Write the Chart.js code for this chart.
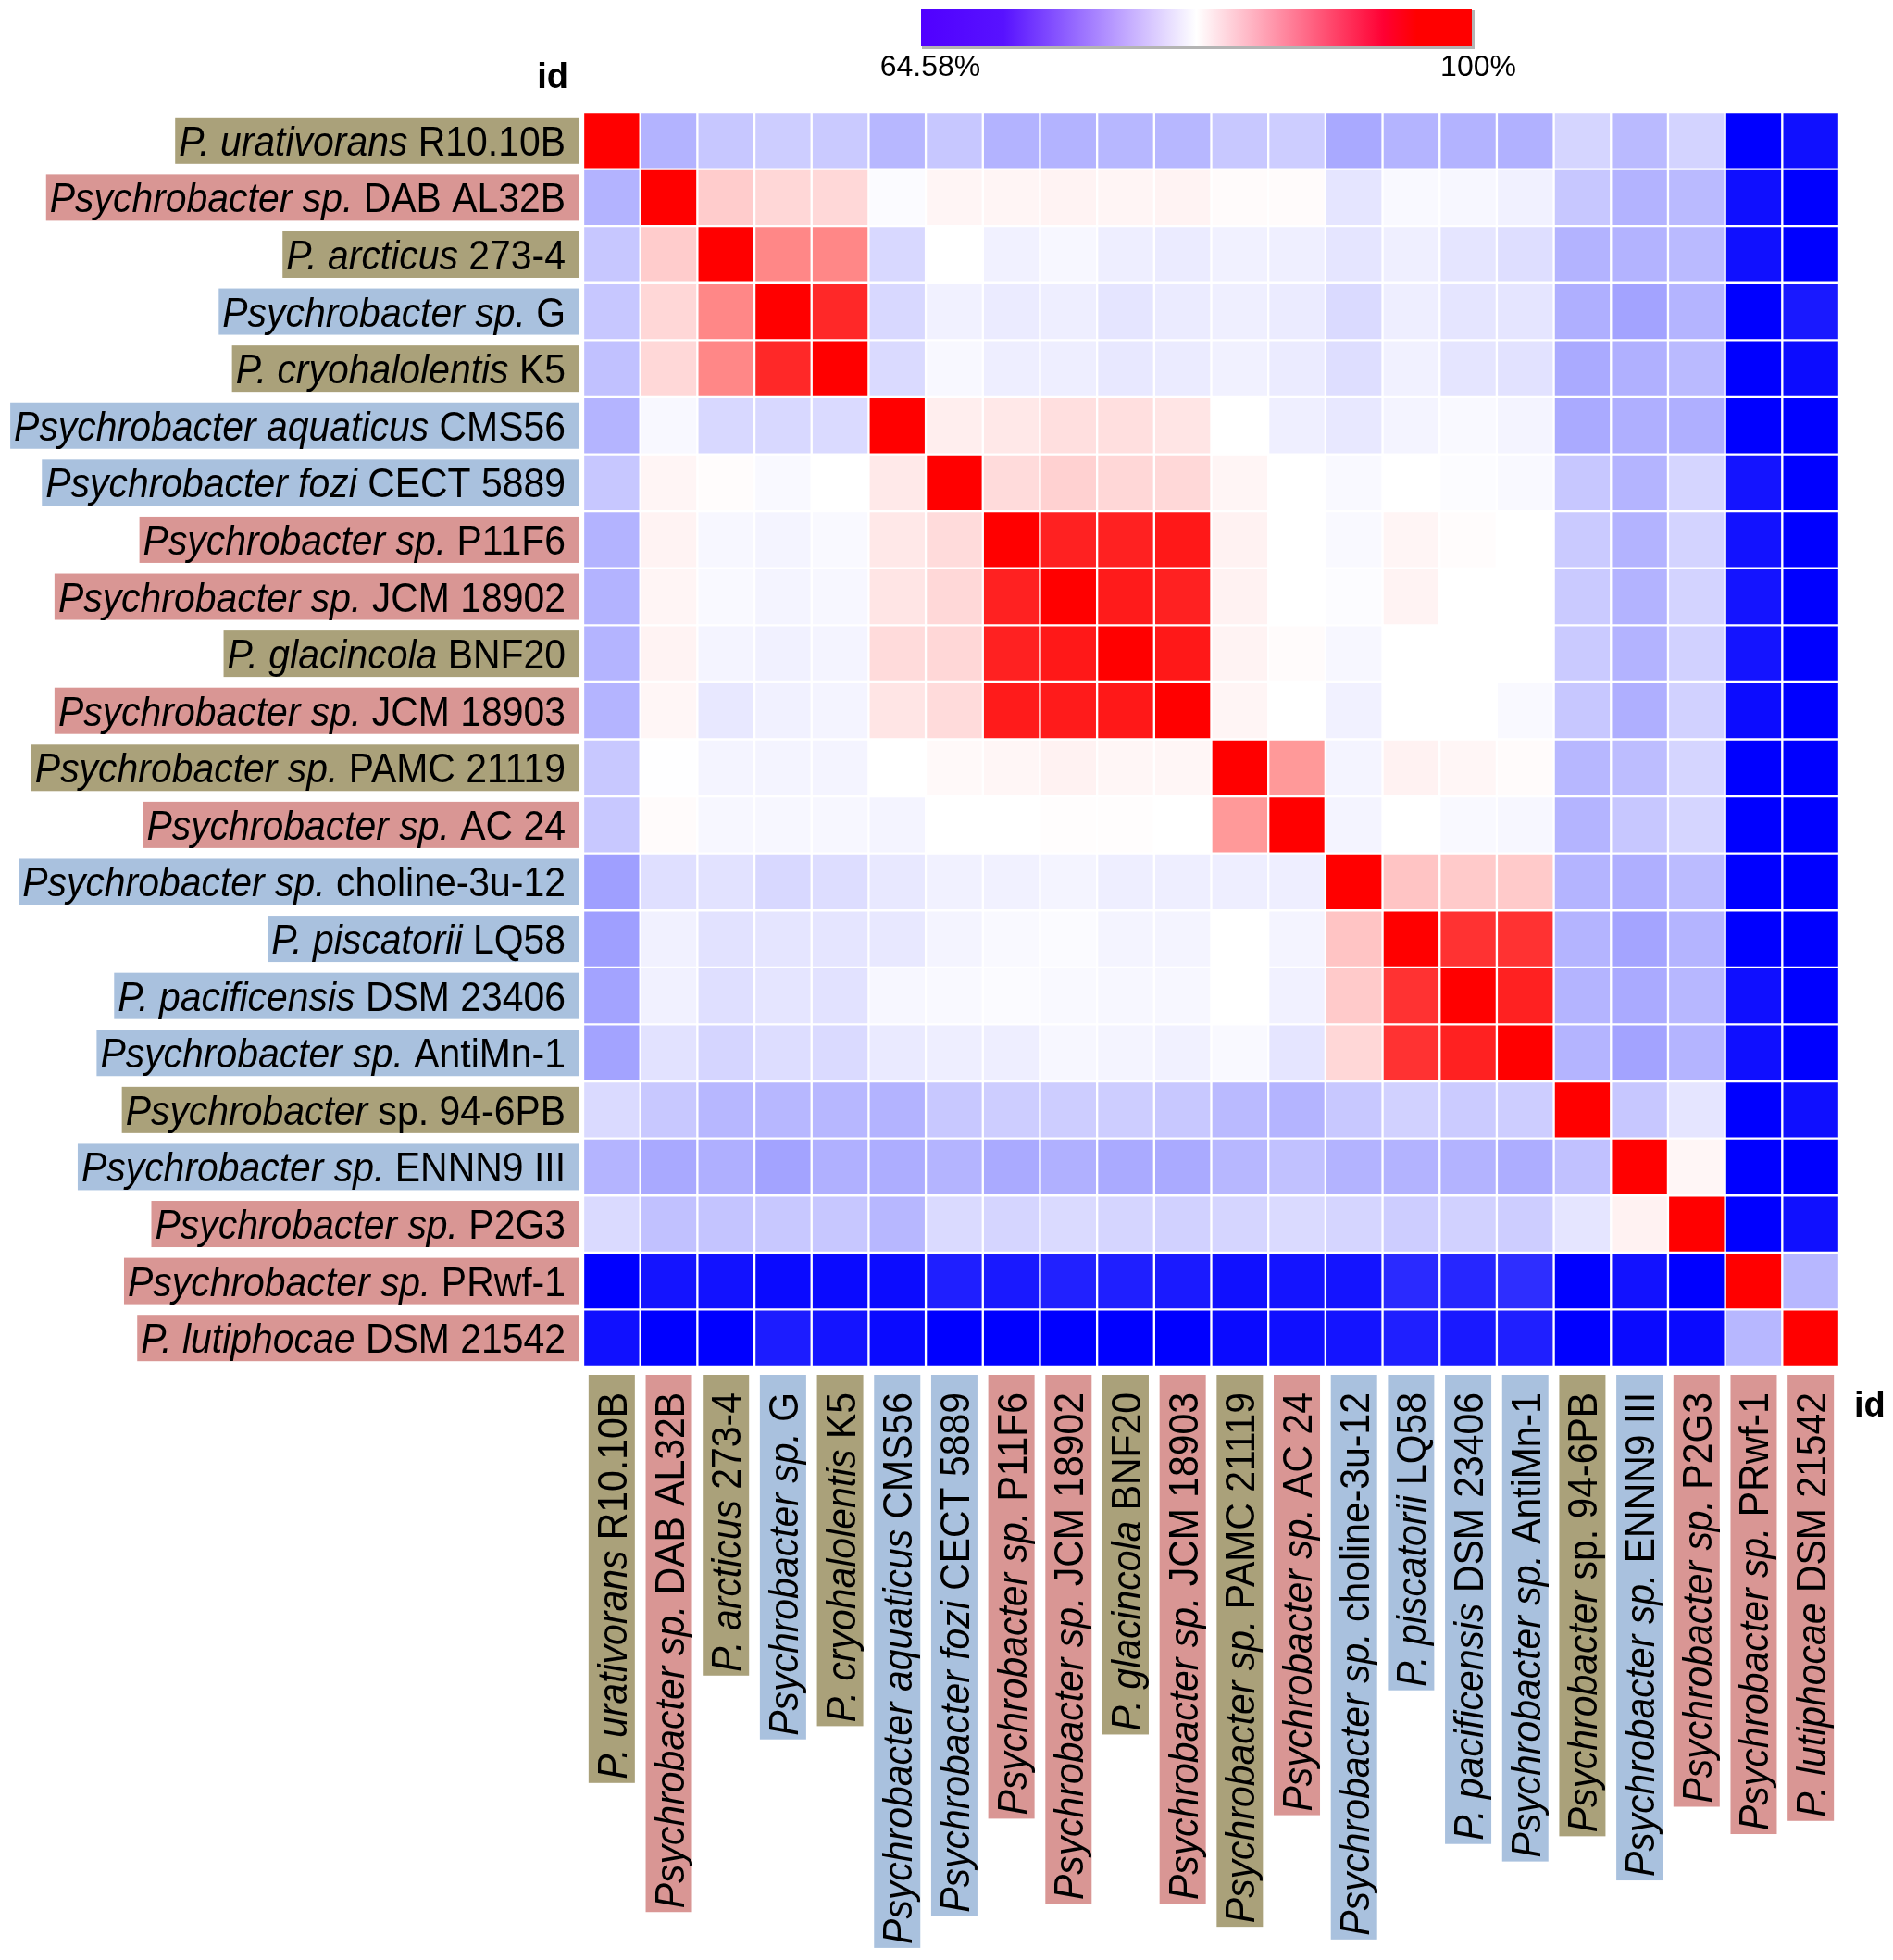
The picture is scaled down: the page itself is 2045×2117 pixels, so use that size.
<!DOCTYPE html>
<html>
<head>
<meta charset="utf-8">
<title>Psychrobacter ANI heatmap</title>
<script src="https://cdn.jsdelivr.net/npm/chart.js@4.4.1/dist/chart.umd.min.js"></script>
<style>
  html, body { margin: 0; padding: 0; background: #fff; overflow: hidden; }
  #wrap { width: 2045px; height: 2117px; }
</style>
</head>
<body>
<div id="wrap"><canvas id="heatmap"></canvas></div>
<script>
const strainNames = [
  'P. urativorans R10.10B',
  'Psychrobacter sp. DAB AL32B',
  'P. arcticus 273-4',
  'Psychrobacter sp. G',
  'P. cryohalolentis K5',
  'Psychrobacter aquaticus CMS56',
  'Psychrobacter fozi CECT 5889',
  'Psychrobacter sp. P11F6',
  'Psychrobacter sp. JCM 18902',
  'P. glacincola BNF20',
  'Psychrobacter sp. JCM 18903',
  'Psychrobacter sp. PAMC 21119',
  'Psychrobacter sp. AC 24',
  'Psychrobacter sp. choline-3u-12',
  'P. piscatorii LQ58',
  'P. pacificensis DSM 23406',
  'Psychrobacter sp. AntiMn-1',
  'Psychrobacter sp. 94-6PB',
  'Psychrobacter sp. ENNN9 III',
  'Psychrobacter sp. P2G3',
  'Psychrobacter sp. PRwf-1',
  'P. lutiphocae DSM 21542'
];

// the part of each name set in italics
const italicParts = [
  'P. urativorans', 'Psychrobacter sp.', 'P. arcticus', 'Psychrobacter sp.',
  'P. cryohalolentis', 'Psychrobacter aquaticus', 'Psychrobacter fozi',
  'Psychrobacter sp.', 'Psychrobacter sp.', 'P. glacincola', 'Psychrobacter sp.',
  'Psychrobacter sp.', 'Psychrobacter sp.', 'Psychrobacter sp.', 'P. piscatorii',
  'P. pacificensis', 'Psychrobacter sp.', 'Psychrobacter', 'Psychrobacter sp.',
  'Psychrobacter sp.', 'Psychrobacter sp.', 'P. lutiphocae'
];

const labelGroups = [
  'olive', 'pink', 'olive', 'blue', 'olive', 'blue', 'blue', 'pink', 'pink', 'olive', 'pink',
  'olive', 'pink', 'blue', 'blue', 'blue', 'blue', 'olive', 'blue', 'pink', 'pink', 'pink'
];
const groupColours = { olive: '#aaa17a', pink: '#d99694', blue: '#a9c1de' };

const scaleMin = 64.58;
const scaleMax = 100;
const scaleTickLabels = ['64.58%', '100%'];

// pairwise identity (%), row i vs column j
const identity = [
  [100, 77.0, 78.4, 78.8, 78.6, 77.3, 78.4, 77.0, 77.0, 77.3, 77.3, 78.5, 78.8, 76.3, 77.1, 77.0, 76.9, 79.4, 77.5, 79.2, 64.6, 65.7],
  [77.0, 100, 85.8, 85.1, 85.0, 82.0, 83.0, 83.0, 83.1, 83.0, 83.1, 82.6, 82.6, 80.5, 81.9, 81.7, 81.3, 78.4, 77.0, 77.5, 65.6, 64.6],
  [78.4, 85.8, 100, 90.6, 90.6, 79.6, 82.3, 81.3, 81.7, 81.1, 80.9, 81.3, 81.2, 80.5, 81.2, 80.5, 80.0, 77.0, 77.0, 77.5, 65.7, 64.6],
  [78.4, 85.1, 90.6, 100, 97.2, 79.6, 81.3, 80.9, 81.1, 80.5, 80.9, 81.2, 80.9, 79.7, 81.1, 80.5, 80.5, 76.7, 75.9, 77.1, 64.6, 66.3],
  [78.0, 85.0, 90.6, 97.2, 100, 79.7, 81.8, 81.1, 81.1, 80.7, 80.9, 81.3, 80.9, 80.0, 81.3, 80.5, 80.3, 76.4, 76.8, 77.5, 64.6, 65.4],
  [77.1, 81.8, 79.6, 79.6, 79.7, 100, 83.5, 83.9, 84.5, 84.5, 84.1, 82.3, 81.2, 80.7, 81.5, 81.9, 81.5, 76.4, 76.7, 76.7, 64.6, 64.6],
  [78.4, 83.0, 82.5, 81.9, 82.3, 83.8, 100, 84.8, 85.5, 85.1, 85.0, 83.0, 82.3, 81.9, 82.3, 82.1, 81.9, 78.4, 77.1, 79.4, 66.0, 64.6],
  [77.0, 83.1, 81.7, 81.5, 81.9, 83.9, 84.8, 100, 97.7, 97.7, 98.3, 83.2, 82.3, 81.9, 83.0, 82.5, 82.3, 78.6, 77.0, 79.2, 65.8, 64.6],
  [77.0, 83.0, 81.9, 81.5, 81.7, 84.1, 85.0, 97.7, 100, 98.1, 97.7, 83.2, 82.3, 82.1, 83.1, 82.3, 82.3, 78.6, 77.0, 79.2, 66.0, 64.6],
  [77.1, 83.1, 81.5, 81.3, 81.5, 84.8, 85.1, 97.7, 98.3, 100, 98.3, 83.1, 82.6, 81.7, 82.3, 82.3, 82.3, 78.6, 77.0, 79.1, 66.0, 64.6],
  [77.1, 82.9, 80.7, 81.3, 81.5, 84.1, 84.8, 98.1, 98.1, 98.3, 100, 83.0, 82.3, 81.3, 82.3, 82.3, 81.9, 78.4, 76.7, 79.1, 65.4, 64.6],
  [78.5, 82.2, 81.5, 81.5, 81.5, 82.3, 82.7, 82.9, 83.2, 82.9, 82.9, 100, 89.4, 81.5, 83.2, 82.9, 82.6, 77.3, 77.7, 79.4, 64.6, 64.6],
  [78.5, 82.6, 81.7, 81.7, 81.7, 81.5, 82.3, 82.3, 82.4, 82.4, 82.3, 89.4, 100, 81.5, 82.3, 81.9, 81.7, 77.1, 78.4, 79.4, 64.6, 64.6],
  [75.6, 80.1, 80.3, 79.6, 79.9, 80.7, 81.3, 81.3, 81.5, 81.1, 81.1, 81.1, 81.1, 100, 86.4, 86.0, 86.0, 77.1, 76.7, 77.6, 64.6, 64.6],
  [75.6, 81.3, 80.3, 80.5, 80.5, 80.7, 81.5, 81.9, 82.0, 81.5, 81.5, 82.3, 81.5, 86.4, 100, 96.5, 96.5, 77.1, 76.0, 77.1, 64.6, 64.6],
  [75.9, 81.3, 80.1, 80.5, 80.3, 81.7, 81.9, 82.0, 81.9, 81.7, 81.7, 82.3, 81.3, 86.0, 96.5, 100, 97.7, 77.1, 76.4, 77.3, 65.6, 64.6],
  [75.9, 80.3, 79.4, 79.9, 79.7, 80.8, 81.1, 81.1, 81.7, 81.5, 81.3, 81.9, 80.5, 85.1, 96.5, 97.7, 100, 77.1, 75.9, 77.1, 65.6, 64.6],
  [79.7, 78.5, 77.3, 77.3, 77.3, 77.0, 78.5, 78.8, 78.8, 78.8, 78.5, 77.5, 77.1, 78.5, 79.1, 78.7, 78.8, 100, 78.4, 80.5, 64.6, 65.6],
  [77.1, 76.3, 76.7, 75.9, 76.8, 76.6, 77.1, 76.4, 76.8, 76.4, 76.4, 77.3, 78.0, 77.0, 77.0, 77.0, 76.6, 78.0, 100, 82.9, 64.6, 64.6],
  [79.7, 78.0, 78.2, 78.5, 78.4, 77.3, 79.7, 79.4, 79.7, 79.4, 79.1, 79.4, 79.7, 79.4, 78.8, 79.1, 78.8, 80.5, 83.2, 100, 64.6, 65.7],
  [64.6, 66.0, 65.8, 65.3, 65.3, 65.4, 66.7, 66.3, 66.9, 66.7, 66.4, 65.7, 66.0, 66.0, 67.5, 67.2, 67.8, 64.6, 65.8, 64.6, 100, 77.3],
  [65.7, 64.6, 64.6, 66.5, 66.0, 65.3, 64.6, 64.6, 64.6, 64.6, 64.6, 65.3, 65.6, 66.0, 66.7, 66.3, 66.7, 64.6, 65.3, 65.3, 77.3, 100]
];

const labelFont = '"Liberation Sans", Arial, sans-serif';
const labelSize = 44;
const labelSqueeze = 0.93; // the original lettering is a little condensed

// blue -> white -> red
function cellColour(v) {
  const mid = (scaleMin + scaleMax) / 2;
  if (v <= mid) {
    const t = Math.max(0, Math.min(1, (v - scaleMin) / (mid - scaleMin)));
    const c = Math.round(255 * t);
    return `rgb(${c},${c},255)`;
  }
  const s = Math.max(0, Math.min(1, (v - mid) / (scaleMax - mid)));
  const c = Math.round(255 * (1 - s));
  return `rgb(255,${c},${c})`;
}

// one stacked dataset per column, each cell one unit wide
const datasets = strainNames.map((colName, j) => ({
  label: colName,
  data: identity.map((row, i) => ({ y: strainNames[i], x: 1, v: row[j] })),
  backgroundColor: ctx => cellColour(ctx.raw.v),
  borderColor: '#ffffff',
  borderWidth: 1.5,
  borderSkipped: false,
  barPercentage: 1,
  categoryPercentage: 1
}));

// label in the current frame: text ends at endX, box runs to boxEnd
function drawLabel(ctx, i, endX, centreY, boxEnd) {
  const name = strainNames[i];
  const it = italicParts[i];
  const rest = name.slice(it.length);
  const italic = `italic ${labelSize}px ${labelFont}`;
  const upright = `${labelSize}px ${labelFont}`;
  ctx.font = italic;
  const wI = ctx.measureText(it).width;
  ctx.font = upright;
  const wR = ctx.measureText(rest).width;
  const start = endX - (wI + wR) * labelSqueeze;
  ctx.fillStyle = groupColours[labelGroups[i]];
  ctx.fillRect(start - 4, centreY - 25, boxEnd - start + 4, 50);

  ctx.save();
  ctx.translate(start, centreY + 16);
  ctx.scale(labelSqueeze, 1);
  ctx.fillStyle = '#000';
  ctx.textBaseline = 'alphabetic';
  ctx.textAlign = 'left';
  ctx.font = italic;
  ctx.fillText(it, 0, 0);
  ctx.font = upright;
  ctx.fillText(rest, wI, 0);
  ctx.restore();
}

const decorPlugin = {
  id: 'decor',
  afterDraw(chart) {
    const { ctx, chartArea: area, scales: { x, y } } = chart;
    ctx.save();

    strainNames.forEach((n, i) => {
      drawLabel(ctx, i, area.left - 19, y.getPixelForValue(i), area.left - 4);
    });

    strainNames.forEach((n, j) => {
      const cx = x.getPixelForValue(j + 0.5);
      ctx.save();
      ctx.translate(cx, area.bottom + 28);
      ctx.rotate(-Math.PI / 2);
      drawLabel(ctx, j, 0, 0, 19);
      ctx.restore();
    });

    // "id" headers
    ctx.fillStyle = '#000';
    ctx.font = `bold 38px ${labelFont}`;
    ctx.textAlign = 'right';
    ctx.fillText('id', area.left - 16, 95);
    ctx.textAlign = 'left';
    ctx.fillText('id', area.right + 16, 1530);

    // colour key
    const kx = 995, ky = 10, kw = 595, kh = 40;
    ctx.strokeStyle = '#dcdcdc';
    ctx.lineWidth = 1;
    ctx.beginPath();
    ctx.moveTo(1180, 6.5);
    ctx.lineTo(1592, 6.5);
    ctx.stroke();
    const grad = ctx.createLinearGradient(kx, 0, kx + kw, 0);
    grad.addColorStop(0, '#5000ff');
    grad.addColorStop(0.15, '#5812ff');
    grad.addColorStop(0.5, '#ffffff');
    grad.addColorStop(0.84, '#ff0033');
    grad.addColorStop(0.9, '#ff0000');
    grad.addColorStop(1, '#ff0000');
    ctx.fillStyle = '#b4b4b4';
    ctx.fillRect(kx + 1, ky + 1, kw + 2, kh + 2);
    ctx.fillStyle = grad;
    ctx.fillRect(kx, ky, kw, kh);
    ctx.fillStyle = '#000';
    ctx.font = `32px ${labelFont}`;
    ctx.textAlign = 'center';
    ctx.fillText(scaleTickLabels[0], kx + 10, 82);
    ctx.fillText(scaleTickLabels[1], kx + kw + 7, 82);

    ctx.restore();
  }
};

new Chart(document.getElementById('heatmap'), {
  type: 'bar',
  data: { labels: strainNames, datasets },
  options: {
    indexAxis: 'y',
    responsive: true,
    maintainAspectRatio: false,
    animation: false,
    layout: { padding: { left: 630, top: 121, right: 58, bottom: 641 } },
    scales: {
      x: { type: 'linear', stacked: true, min: 0, max: strainNames.length, display: false },
      y: { type: 'category', stacked: true, display: false }
    },
    plugins: {
      legend: { display: false },
      tooltip: {
        callbacks: {
          title: items => `${items[0].label} vs ${items[0].dataset.label}`,
          label: item => `${item.raw.v}%`
        }
      }
    }
  },
  plugins: [decorPlugin]
});
</script>
</body>
</html>
